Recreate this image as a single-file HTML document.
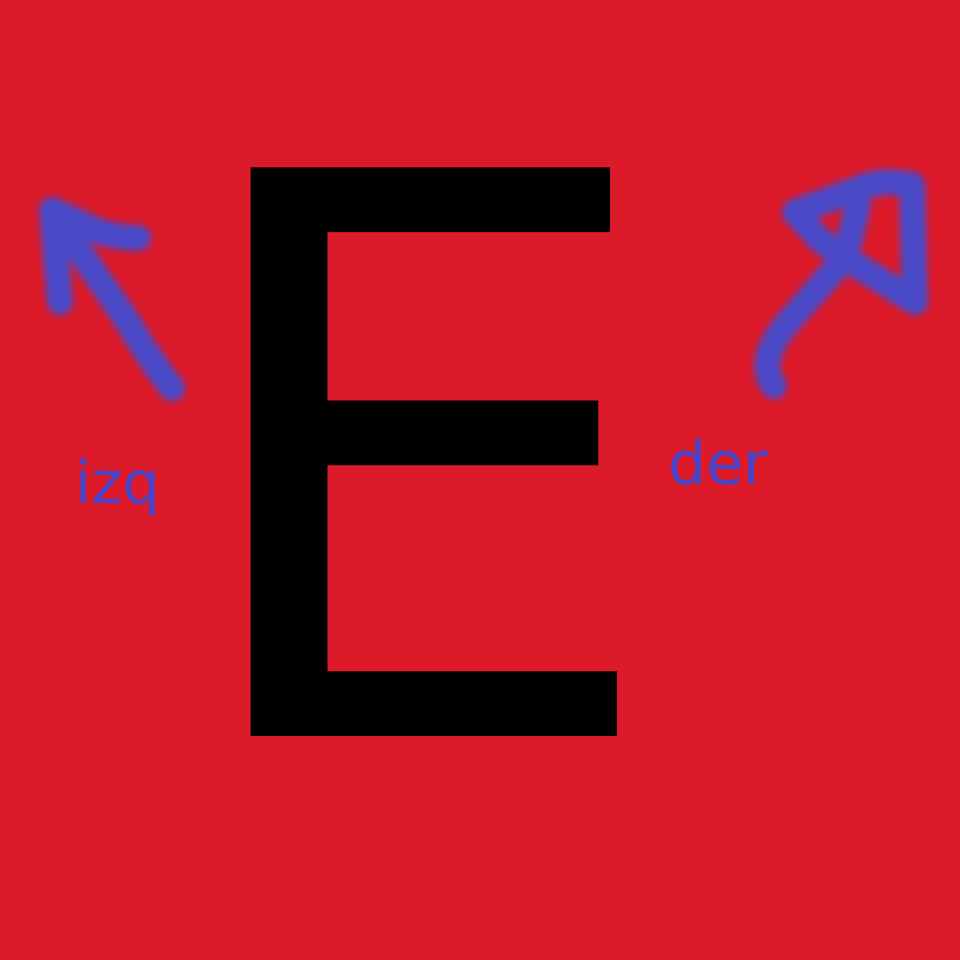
<!DOCTYPE html>
<html><head><meta charset="utf-8"><style>
html,body{margin:0;padding:0;background:#dc1a2a;}
svg{display:block;}
</style></head><body>
<svg width="960" height="960" viewBox="0 0 960 960" xmlns="http://www.w3.org/2000/svg">
<defs><filter id="b" x="-20%" y="-20%" width="140%" height="140%"><feGaussianBlur stdDeviation="3.5"/></filter></defs>
<rect width="960" height="960" fill="#dc1a2a"/>
<text x="174" y="736" font-family="'DejaVu Sans', 'Liberation Sans', sans-serif" font-size="780" fill="#000">E</text>
<g filter="url(#b)" fill="none" stroke="#4848c8" stroke-width="26" stroke-linecap="round" stroke-linejoin="round">
<path d="M172,388 Q150,360 128,322 L55,215"/>
<path d="M60,302 L52,210 L100,232 Q120,238 138,238"/>
</g>
<g filter="url(#b)" fill="none" stroke="#4848c8" stroke-width="26" stroke-linecap="round" stroke-linejoin="round">
<path d="M774,386 Q755,360 790,320 L845,258"/>
<path d="M845,258 L915,302 L912,185 Q880,178 855,190 L795,212 L820,240 L845,258 L858,205"/>
</g>
<text x="75" y="503" font-family="'DejaVu Sans', 'Liberation Sans', sans-serif" font-size="59" fill="#4444cc">izq</text>
<text x="668" y="484" font-family="'DejaVu Sans', 'Liberation Sans', sans-serif" font-size="60" fill="#4444cc">der</text>
</svg>
</body></html>
